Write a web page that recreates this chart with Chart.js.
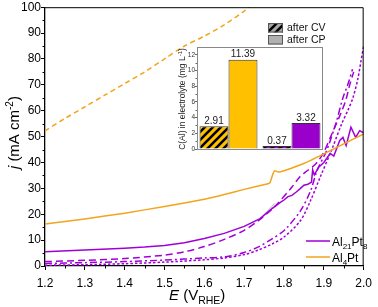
<!DOCTYPE html>
<html>
<head>
<meta charset="utf-8">
<script src="https://cdn.jsdelivr.net/npm/chart.js@4.4.0/dist/chart.umd.min.js"></script>
<style>
html,body{margin:0;padding:0;background:#fff;}
#wrap{position:relative;width:378px;height:307px;}
#main{position:absolute;left:0;top:0;}
#inset{position:absolute;left:160px;top:12px;}
</style>
</head>
<body>
<div id="wrap">
<canvas id="main" width="378" height="307"></canvas>
<canvas id="inset" width="172" height="146"></canvas>
</div>
<script>
// Al4Pt curves (orange)
var E_al4pt_solid = [1.2,1.3,1.4,1.5,1.6,1.65,1.7,1.76,1.765,1.772,1.777,1.785,1.8,1.85,1.9,1.95,2.0];
var j_al4pt_solid = [16.2,18.2,20.4,23.0,25.8,27.6,29.6,31.8,32.2,35.5,36.8,36.3,36.8,39.6,43.3,47.2,51];
var E_al4pt_dash = [1.2,1.25,1.3,1.35,1.4,1.45,1.5,1.55,1.6,1.65,1.7,1.72];
var j_al4pt_dash = [52.2,57,61.5,66,70.5,75,80,85,88.8,93.2,98.5,101];

// Al21Pt8 curves (purple)
var E_al21_solid = [1.2,1.3,1.4,1.45,1.5,1.55,1.6,1.65,1.7,1.74,1.77,1.79,1.8,1.81,1.82,1.83,1.84,1.85,1.86,1.869,1.872,1.876,1.887,1.9,1.916,1.925,1.94,1.948,1.956,1.968,1.98,1.99,2.0];
var j_al21_solid = [5.5,6.2,6.9,7.3,7.9,9.0,10.6,12.6,15.3,18.3,22.2,24.5,25.5,26.8,27.3,28.5,29.8,31.2,31.6,32.4,37.2,35.2,38.2,40,43.5,42.5,48.5,49.7,46.5,53.6,49.7,52.3,51.5];
var E_al21_dash = [1.2,1.3,1.4,1.5,1.55,1.6,1.65,1.7,1.74,1.78,1.82,1.84,1.86,1.88,1.9,1.92,1.94,1.955,1.965,1.975];
var j_al21_dash = [1.7,2.2,2.9,4.2,5.5,7.5,10.3,13.8,18,23.5,30.5,34.5,37,39.5,44,51,58,64,70,75];
var E_al21_dashdot = [1.2,1.3,1.4,1.5,1.6,1.654,1.7,1.736,1.77,1.801,1.842,1.867,1.883,1.907,1.93,1.948,1.96,1.972];
var j_al21_dashdot = [1.0,1.3,1.7,2.3,3.1,3.6,5.2,7.4,10.5,13.8,21.5,29.2,36.9,44.6,55,65,70,76];
var E_al21_dot = [1.2,1.3,1.4,1.5,1.6,1.65,1.7,1.736,1.77,1.801,1.842,1.867,1.891,1.92,1.945,1.96,1.973,1.985,1.993,2.0];
var j_al21_dot = [0.3,0.5,0.9,1.5,2.4,3.1,4.4,6.2,8.5,11.3,17.7,25.4,34.4,45,55,60,65,72,79,85];
var E_tangent = [1.74,1.777];
var j_tangent = [18.3,24.2];

// inset bars
var insetLabels = ['Al4Pt','Al21Pt8'];
var afterCV = [2.91,0.37];
var afterCP = [11.39,3.32];

var ORANGE = '#f2a41c', PURPLE = '#a000d8';
var BAR_YELLOW = '#ffc000', BAR_PURPLE = '#9900cc';
var FONT = 'Liberation Sans, Arial, sans-serif';
Chart.defaults.font.family = FONT;

function pts(E, j){
  var out = [];
  for(var i = 0;i<E.length;i++) out.push({x:E[i], y:j[i]});
  return out;
}

function hatch(bg){
  var c = document.createElement('canvas');
  c.width = 8; c.height = 8;
  var g = c.getContext('2d');
  g.fillStyle = bg; g.fillRect(0,0,8,8);
  g.strokeStyle = '#000'; g.lineWidth = 2.6;
  g.beginPath();
  g.moveTo(-2,10); g.lineTo(10,-2);
  g.moveTo(-2,2); g.lineTo(2,-2);
  g.moveTo(6,10); g.lineTo(10,6);
  g.stroke();
  return g.createPattern(c,'repeat');
}

// draws pieces of text one after another, with sub/superscripts
function drawRich(ctx, parts, x, y){
  var cx = x;
  for(var i = 0;i<parts.length;i++){
    var p = parts[i];
    ctx.font = (p.italic ? 'italic ' : '') + p.size + 'px ' + FONT;
    ctx.fillText(p.t, cx, y + (p.dy || 0));
    cx += ctx.measureText(p.t).width;
  }
  return cx - x;
}
function richWidth(ctx, parts){
  var w = 0;
  for(var i = 0;i<parts.length;i++){
    ctx.font = (parts[i].italic ? 'italic ' : '') + parts[i].size + 'px ' + FONT;
    w += ctx.measureText(parts[i].t).width;
  }
  return w;
}

var mainDecor = {
  id:'mainDecor',
  afterDraw: function(chart){
    var ctx = chart.ctx, a = chart.chartArea;
    var xs = chart.scales.x, ys = chart.scales.y;
    ctx.save();
    ctx.strokeStyle = '#000';
    ctx.lineWidth = 1;
    ctx.beginPath();
    ctx.moveTo(a.left, a.top + 0.5);
    ctx.lineTo(a.right - 0.5, a.top + 0.5);
    ctx.lineTo(a.right - 0.5, a.bottom);
    ctx.stroke();

    // minor ticks
    ctx.lineWidth = 1;
    ctx.beginPath();
    for(var v = 5;v<100;v+=10){
      var py = Math.round(ys.getPixelForValue(v)) + 0.5;
      ctx.moveTo(a.left - 2.5, py); ctx.lineTo(a.left, py);
    }
    for(var k = 0;k<8;k++){
      var px = Math.round(xs.getPixelForValue(1.25 + k*0.1)) + 0.5;
      ctx.moveTo(px, a.bottom); ctx.lineTo(px, a.bottom + 2.5);
    }
    ctx.stroke();

    // axis titles
    ctx.fillStyle = '#000';
    ctx.textBaseline = 'alphabetic';
    ctx.textAlign = 'left';
    drawRich(ctx, [
      {t:'E', size:15, italic:true},
      {t:' (V', size:15},
      {t:'RHE', size:10.5, dy:3.5},
      {t:')', size:15}
    ], 169, 300);

    var yParts = [
      {t:'j', size:15, italic:true},
      {t:' (mA cm', size:15},
      {t:'-2', size:10, dy:-6},
      {t:')', size:15}
    ];
    var w = richWidth(ctx, yParts);
    ctx.save();
    ctx.translate(18.5, (a.top + a.bottom)/2 + w/2 - 4);
    ctx.rotate(-Math.PI/2);
    drawRich(ctx, yParts, 0, 0);
    ctx.restore();

    // legend
    var items = [
      {color:PURPLE, y:241, parts:[{t:'Al',size:12},{t:'21',size:8,dy:3},{t:'Pt',size:12},{t:'8',size:8,dy:3}]},
      {color:ORANGE, y:257, parts:[{t:'Al',size:12},{t:'4',size:8,dy:3},{t:'Pt',size:12}]}
    ];
    for(var i = 0;i<items.length;i++){
      ctx.strokeStyle = items[i].color;
      ctx.lineWidth = 1.5;
      ctx.beginPath();
      ctx.moveTo(306, items[i].y); ctx.lineTo(330, items[i].y);
      ctx.stroke();
      ctx.fillStyle = '#000';
      drawRich(ctx, items[i].parts, 332, items[i].y + 4.5);
    }
    ctx.restore();
  }
};

new Chart(document.getElementById('main'), {
  type:'line',
  data:{
    datasets:[
      {data:pts(E_al4pt_dash, j_al4pt_dash), borderColor:ORANGE, borderDash:[5,3.5]},
      {data:pts(E_al4pt_solid, j_al4pt_solid), borderColor:ORANGE, tension:0.15},
      {data:pts(E_al21_dot, j_al21_dot), borderColor:PURPLE, borderDash:[2.5,2]},
      {data:pts(E_al21_dashdot, j_al21_dashdot), borderColor:PURPLE, borderDash:[7,3,2,3]},
      {data:pts(E_al21_dash, j_al21_dash), borderColor:PURPLE, borderDash:[7,4]},
      {data:pts(E_al21_solid, j_al21_solid), borderColor:PURPLE, tension:0},
      {data:pts(E_tangent, j_tangent), borderColor:'#999', borderWidth:0.8}
    ]
  },
  options:{
    responsive:false,
    animation:false,
    layout:{padding:{top:6, right:8, left:0, bottom:0}},
    plugins:{legend:{display:false}, tooltip:{enabled:false}},
    elements:{point:{radius:0}, line:{borderWidth:1.5, tension:0.3, fill:false}},
    scales:{
      x:{
        type:'linear', min:1.2, max:2.0,
        ticks:{stepSize:0.1, autoSkip:false, maxRotation:0, padding:6, color:'#000', font:{size:12},
          callback:function(v){ return v.toFixed(1); }},
        grid:{drawOnChartArea:false, tickLength:4, tickColor:'#000', tickWidth:1},
        border:{color:'#000', width:1.3},
        afterFit:function(s){ s.height = 41; }
      },
      y:{
        min:0, max:100,
        ticks:{stepSize:10, padding:0, color:'#000', font:{size:12}},
        grid:{drawOnChartArea:false, tickLength:4, tickColor:'#000', tickWidth:1},
        border:{color:'#000', width:1.3},
        afterFit:function(s){ s.width = 45; }
      }
    }
  },
  plugins:[mainDecor]
});

var insetDecor = {
  id:'insetDecor',
  beforeDatasetsDraw: function(chart){
    var ctx = chart.ctx, a = chart.chartArea;
    ctx.save();
    ctx.fillStyle = '#fff';
    ctx.fillRect(a.left, a.top, a.right - a.left, a.bottom - a.top);
    ctx.restore();
  },
  afterDraw: function(chart){
    var ctx = chart.ctx, a = chart.chartArea, ys = chart.scales.y;
    ctx.save();
    ctx.strokeStyle = '#888';
    ctx.lineWidth = 1;
    ctx.strokeRect(a.left + 0.5, a.top + 0.5, a.right - a.left - 1, a.bottom - a.top);

    ctx.strokeStyle = '#666';
    ctx.beginPath();
    for(var v = 1;v<13;v+=2){
      var py = Math.round(ys.getPixelForValue(v)) + 0.5;
      ctx.moveTo(a.left - 1.5, py); ctx.lineTo(a.left, py);
    }
    ctx.stroke();

    // values above bars
    ctx.fillStyle = '#222';
    ctx.font = '10px ' + FONT;
    ctx.textAlign = 'center';
    ctx.textBaseline = 'bottom';
    chart.data.datasets.forEach(function(ds, di){
      chart.getDatasetMeta(di).data.forEach(function(bar, bi){
        ctx.fillText(ds.data[bi].toFixed(2), bar.x, bar.y);
      });
    });

    // y title
    ctx.textAlign = 'left';
    ctx.textBaseline = 'alphabetic';
    var parts = [{t:'C(Al) in electrolyte (mg L', size:8.5}, {t:'-1', size:6, dy:-3.5}, {t:')', size:8.5}];
    var w = richWidth(ctx, parts);
    ctx.save();
    ctx.translate(25, (a.top + a.bottom)/2 + w/2 + 1);
    ctx.rotate(-Math.PI/2);
    ctx.fillStyle = '#222';
    drawRich(ctx, parts, 0, 0);
    ctx.restore();

    // legend
    var boxes = [{fill:hatch('#a8a8a8'), y:11, text:'after CV'}, {fill:'#b0b0b0', y:23, text:'after CP'}];
    ctx.font = '10.5px ' + FONT;
    ctx.textBaseline = 'middle';
    for(var i = 0;i<boxes.length;i++){
      ctx.fillStyle = boxes[i].fill;
      ctx.fillRect(108, boxes[i].y, 15, 9.5);
      ctx.strokeStyle = '#555';
      ctx.strokeRect(108.5, boxes[i].y + 0.5, 14, 8.5);
      ctx.fillStyle = '#111';
      ctx.fillText(boxes[i].text, 127, boxes[i].y + 5);
    }
    ctx.restore();
  }
};

new Chart(document.getElementById('inset'), {
  type:'bar',
  data:{
    labels:insetLabels,
    datasets:[
      {label:'after CV', data:afterCV, backgroundColor:[hatch(BAR_YELLOW), hatch(BAR_PURPLE)], borderColor:'#333', borderWidth:1},
      {label:'after CP', data:afterCP, backgroundColor:[BAR_YELLOW, BAR_PURPLE], borderColor:'#333', borderWidth:1}
    ]
  },
  options:{
    responsive:false,
    animation:false,
    layout:{padding:{left:0, right:9, top:35, bottom:9}},
    plugins:{legend:{display:false}, tooltip:{enabled:false}},
    datasets:{bar:{categoryPercentage:0.92, barPercentage:1}},
    scales:{
      x:{display:false, offset:true},
      y:{
        min:0, max:13,
        ticks:{stepSize:2, includeBounds:false, padding:0, color:'#333', font:{size:6.5}},
        grid:{drawOnChartArea:false, tickLength:2, tickColor:'#666'},
        border:{color:'#888', width:1},
        afterFit:function(s){ s.width = 37; }
      }
    }
  },
  plugins:[insetDecor]
});
</script>
</body>
</html>
